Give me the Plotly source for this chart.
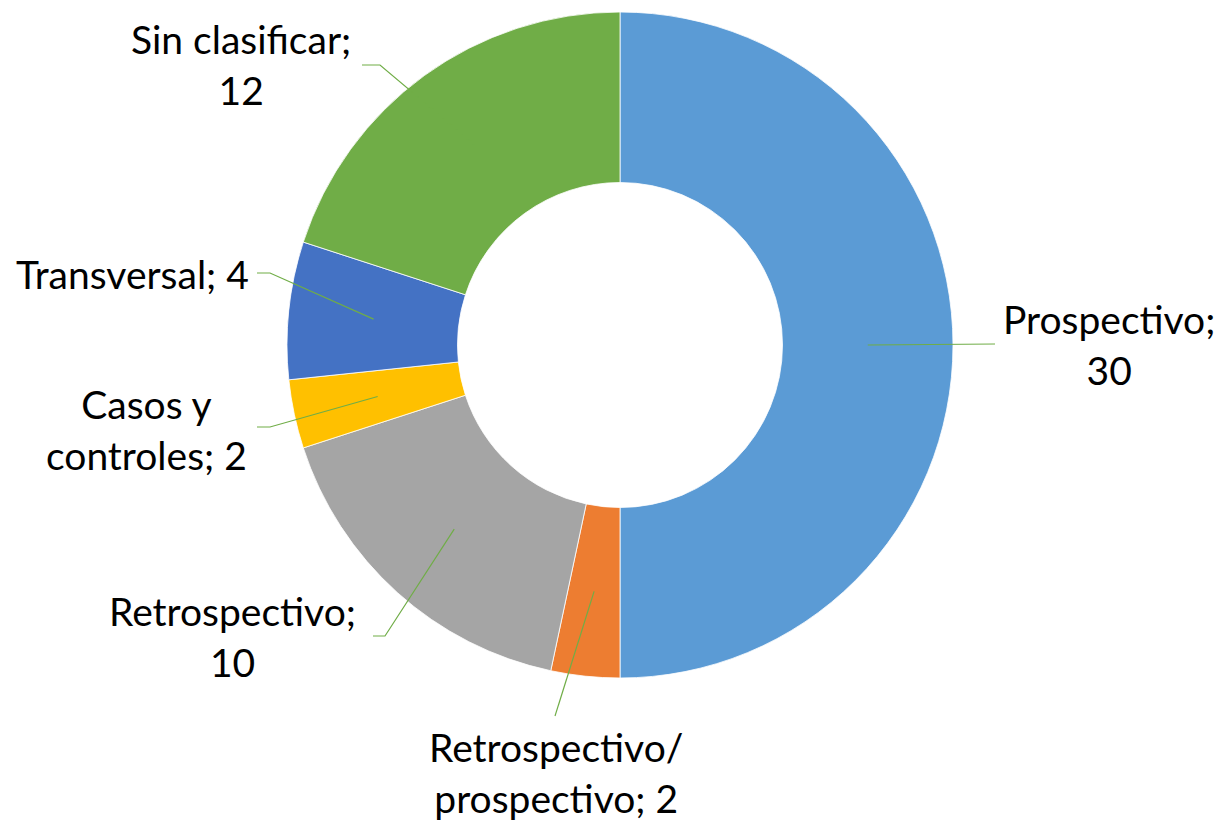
import math
import plotly.graph_objects as go

# ---- data ----
categories = ["Prospectivo", "Retrospectivo/<br>prospectivo", "Retrospectivo",
              "Casos y<br>controles", "Transversal", "Sin clasificar"]
label_texts = ["Prospectivo;<br>30", "Retrospectivo/<br>prospectivo; 2", "Retrospectivo;<br>10",
               "Casos y<br>controles; 2", "Transversal; 4", "Sin clasificar;<br>12"]
values = [30, 2, 10, 2, 4, 12]
colors = ["#5B9BD5", "#ED7D31", "#A5A5A5", "#FFC000", "#4472C4", "#70AD47"]

# ---- layout (pixels) ----
W, H = 1224, 821
CX, CY, R = 620, 345, 333
HOLE = 0.488
# label box centers and leader elbow/end points (pixels)
label_centers = [(1109, 344), (556, 772), (232, 636), (146, 429), (132, 274), (241, 65)]
leader_paths = [[(995, 344)], [(555, 716)], [(385, 636), (373, 636)],
                [(270, 427), (257, 427)], [(270, 273), (257, 273)], [(380, 65), (362, 65)]]

def px(x):
    return x / W

def py(y):
    return 1 - y / H

fig = go.Figure(go.Pie(
    labels=categories, values=values, sort=False, direction="clockwise", rotation=0,
    hole=HOLE, marker=dict(colors=colors, line=dict(color="white", width=0.8)),
    textinfo="none", hoverinfo="label+value", showlegend=False,
    domain=dict(x=[px(CX - R), px(CX + R)], y=[py(CY + R), py(CY - R)]),
))

total = sum(values)
cum = 0
shapes = []
annotations = []
r_mid = R * (1 + HOLE) / 2
for i, v in enumerate(values):
    mid = (cum + v / 2) / total * 2 * math.pi
    cum += v
    sx = CX + r_mid * math.sin(mid)
    sy = CY - r_mid * math.cos(mid)
    pts = [(sx, sy)] + leader_paths[i]
    path = "M " + " L ".join(f"{px(x):.5f},{py(y):.5f}" for x, y in pts)
    shapes.append(dict(type="path", xref="paper", yref="paper", path=path,
                       line=dict(color="#70AD47", width=1.2)))
    lx, ly = label_centers[i]
    annotations.append(dict(x=px(lx), y=py(ly), xref="paper", yref="paper",
                            text=label_texts[i], showarrow=False, align="center",
                            xanchor="center", yanchor="middle",
                            font=dict(family="Lato, 'Open Sans', sans-serif", size=39, color="#000000")))

fig.update_layout(width=W, height=H, margin=dict(l=0, r=0, t=0, b=0),
                  paper_bgcolor="white", plot_bgcolor="white",
                  shapes=shapes, annotations=annotations)
fig.write_html("out.html", config={"displayModeBar": False},
               post_script="document.body.style.margin='0';")
